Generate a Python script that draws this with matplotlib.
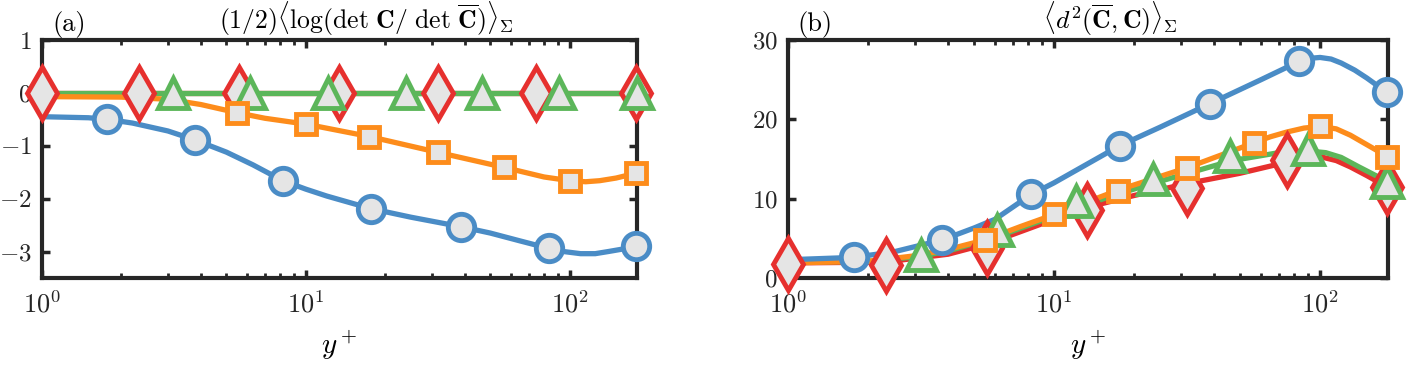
import numpy as np
import matplotlib
matplotlib.use("Agg")
import matplotlib.pyplot as plt

plt.rcParams["font.family"] = "serif"
plt.rcParams["font.serif"] = ["cmr10", "DejaVu Serif"]
plt.rcParams["mathtext.fontset"] = "cm"
plt.rcParams["axes.formatter.use_mathtext"] = True
plt.rcParams["axes.unicode_minus"] = True

BLUE = "#4a8cc6"
ORANGE = "#fd8c1b"
GREEN = "#5cb65a"
RED = "#e6302e"
FACE = "#e5e5e5"

# ---- panel (a): line data ----
a_blue_lx = [1, 1.5, 1.77, 2.2, 3.0, 3.8, 5.0, 6.3, 8.18, 10, 12, 17.7, 25, 38.7, 50, 65, 83.4, 95, 110, 125, 140, 160, 178]
a_blue_ly = [-0.45, -0.47, -0.50, -0.57, -0.72, -0.89, -1.12, -1.36, -1.66, -1.82, -1.95, -2.19, -2.35, -2.53, -2.65,
             -2.80, -2.94, -3.00, -3.04, -3.04, -3.00, -2.95, -2.89]
a_orange_lx = [1, 2, 3, 4, 5.49, 7, 10, 17.4, 31.7, 56.6, 80, 100, 115, 130, 150, 178]
a_orange_ly = [-0.07, -0.08, -0.12, -0.22, -0.375, -0.48, -0.59, -0.825, -1.125, -1.41, -1.59, -1.66, -1.68, -1.66,
               -1.61, -1.52]
a_green_lx = [1, 178]
a_green_ly = [0, 0]
a_red_lx = [1, 178]
a_red_ly = [0, 0]

# ---- panel (a): marker data ----
a_blue_mx = [1.77, 3.80, 8.18, 17.7, 38.7, 83.4, 178]
a_blue_my = [-0.50, -0.89, -1.66, -2.19, -2.53, -2.94, -2.89]
a_orange_mx = [5.49, 10.0, 17.4, 31.7, 56.6, 100, 178]
a_orange_my = [-0.375, -0.59, -0.825, -1.125, -1.41, -1.66, -1.52]
a_green_mx = [3.13, 6.12, 12.1, 23.9, 46.7, 90.8, 180]
a_green_my = [0, 0, 0, 0, 0, 0, 0]
a_red_mx = [1.0, 2.34, 5.6, 13.4, 31.7, 74.8, 178]
a_red_my = [0, 0, 0, 0, 0, 0, 0]

# ---- panel (b): line data ----
b_blue_lx = [1, 1.77, 2.5, 3.8, 5.0, 6.0, 8.18, 10, 17.7, 25, 38.7, 60, 83.4, 92, 100, 110, 120, 135, 150, 165, 178]
b_blue_ly = [2.3, 2.6, 3.3, 4.8, 6.3, 7.4, 10.5, 12.0, 16.7, 19.0, 22.0, 25.0, 27.3, 27.7, 27.8, 27.6, 27.1, 26.2,
             25.2, 24.2, 23.4]
b_orange_lx = [1, 2, 3, 4, 5.5, 7.5, 10, 17.5, 31.6, 56, 65, 75, 87, 100, 115, 130, 150, 165, 178]
b_orange_ly = [1.9, 2.1, 2.8, 3.6, 4.8, 6.5, 8.0, 11.1, 13.9, 17.0, 17.8, 18.4, 18.9, 19.1, 18.8, 18.0, 16.8, 16.0, 15.3]
b_green_lx = [1, 2, 3.1, 4, 6.1, 10, 12.1, 17, 23.9, 46.7, 70, 90.8, 105, 120, 140, 160, 178]
b_green_ly = [2.0, 2.1, 2.7, 3.4, 5.2, 7.8, 8.8, 10.5, 12.0, 14.8, 15.8, 16.0, 15.8, 15.2, 14.0, 13.0, 12.2]
b_red_lx = [1, 2.3, 4, 5.6, 8, 10, 13.3, 20, 31.6, 50, 75, 100, 115, 130, 150, 178]
b_red_ly = [1.9, 2.0, 3.0, 4.3, 6.2, 7.4, 8.9, 10.4, 11.9, 13.2, 14.6, 15.3, 14.8, 14.0, 12.9, 11.5]

# ---- panel (b): marker data ----
b_blue_mx = [1.77, 3.80, 8.18, 17.7, 38.7, 83.4, 178]
b_blue_my = [2.7, 4.8, 10.6, 16.7, 21.9, 27.3, 23.4]
b_orange_mx = [5.49, 10.0, 17.4, 31.7, 56.6, 100, 178]
b_orange_my = [4.8, 8.1, 11.0, 13.9, 17.0, 19.2, 15.3]
b_green_mx = [3.16, 6.1, 12.1, 23.6, 45.9, 90.2, 178]
b_green_my = [2.9, 6.1, 9.7, 12.5, 15.4, 16.3, 12.1]
b_red_mx = [1.0, 2.34, 5.6, 13.3, 31.7, 74.8, 178]
b_red_my = [1.8, 1.6, 3.8, 8.6, 11.3, 14.9, 11.5]

MW = 3.5   # marker edge width
LW = 3.8   # line width


def draw(ax, lines, marks):
    for i, (lx, ly, color) in enumerate(lines):
        ax.plot(lx, ly, color=color, lw=LW, solid_capstyle="butt", solid_joinstyle="round",
                zorder=2 + 0.1 * i)
    for i, (mx, my, color, m, ms) in enumerate(marks):
        ax.plot(mx, my, ls="none", marker=m, ms=ms, mfc=FACE, mec=color, mew=MW,
                clip_on=False, zorder=4 + i)


def style(ax):
    ax.set_xscale("log")
    ax.set_xlim(1, 180)
    for s in ax.spines.values():
        s.set_linewidth(3.0)
        s.set_color("#262626")
    ax.tick_params(which="both", direction="in", top=True, right=True,
                   labelsize=19, colors="#262626")
    ax.tick_params(which="major", length=6, width=2.5)
    ax.tick_params(axis="x", which="major", pad=9)
    ax.tick_params(axis="y", which="major", pad=7.5, labelsize=18)
    ax.tick_params(which="minor", length=3.5, width=2.0)
    ax.set_xlabel(r"$y^+$", fontsize=21, labelpad=8)


fig = plt.figure(figsize=(14.08, 3.69), dpi=100)
ax1 = fig.add_axes([42 / 1408, 91 / 369, 595 / 1408, 238 / 369])
ax2 = fig.add_axes([788 / 1408, 91 / 369, 600 / 1408, 238 / 369])

draw(ax1,
     [(a_red_lx, a_red_ly, RED), (a_green_lx, a_green_ly, GREEN),
      (a_orange_lx, a_orange_ly, ORANGE), (a_blue_lx, a_blue_ly, BLUE)],
     [(a_red_mx, a_red_my, RED, "d", 26), (a_green_mx, a_green_my, GREEN, "^", 21),
      (a_orange_mx, a_orange_my, ORANGE, "s", 15), (a_blue_mx, a_blue_my, BLUE, "o", 19)])
style(ax1)
ax1.set_ylim(-3.5, 1)
ax1.set_yticks([-3, -2, -1, 0, 1])

draw(ax2,
     [(b_red_lx, b_red_ly, RED), (b_green_lx, b_green_ly, GREEN),
      (b_orange_lx, b_orange_ly, ORANGE), (b_blue_lx, b_blue_ly, BLUE)],
     [(b_red_mx, b_red_my, RED, "d", 26), (b_green_mx, b_green_my, GREEN, "^", 21),
      (b_orange_mx, b_orange_my, ORANGE, "s", 15), (b_blue_mx, b_blue_my, BLUE, "o", 19)])
style(ax2)
ax2.set_ylim(0, 30)
ax2.set_yticks([0, 10, 20, 30])

ax1.text(0.018, 1.01, "(a)", transform=ax1.transAxes, fontsize=19, ha="left", va="bottom")
ax1.text(0.545, 1.01, r"$(1/2)\langle\log(\det\,\mathbf{C}/\ \det\,\overline{\mathbf{C}})\rangle_\Sigma$",
         transform=ax1.transAxes, fontsize=18.5, ha="center", va="bottom")
ax2.text(0.015, 1.01, "(b)", transform=ax2.transAxes, fontsize=19, ha="left", va="bottom")
ax2.text(0.537, 1.01, r"$\langle d^2(\overline{\mathbf{C}},\mathbf{C})\rangle_\Sigma$",
         transform=ax2.transAxes, fontsize=18.5, ha="center", va="bottom")

fig.savefig("out.png", dpi=100)
